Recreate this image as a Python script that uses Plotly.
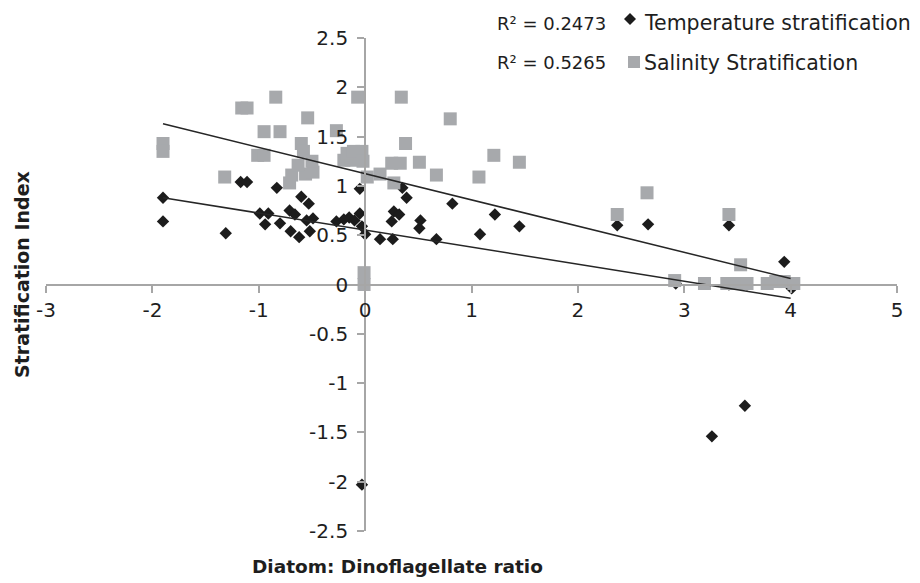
import plotly.graph_objects as go

# ---------------- data ----------------
temp_x = [-1.90, -1.90, -1.31, -1.17, -1.11, -0.99, -0.94, -0.91, -0.83, -0.80,
          -0.71, -0.70, -0.66, -0.62, -0.60, -0.55, -0.53, -0.52, -0.49, -0.27,
          -0.20, -0.15, -0.10, -0.05, -0.03, -0.05, 0.00, 0.14, 0.25, 0.26,
          0.27, 0.32, 0.35, 0.39, 0.51, 0.52, 0.67, 0.82, 1.08, 1.22,
          1.45, 2.37, 2.66, 2.92, 3.26, 3.42, 3.42, 3.57, 3.59, 3.94,
          4.01, -0.03]
temp_y = [0.88, 0.64, 0.52, 1.04, 1.04, 0.72, 0.61, 0.72, 0.98, 0.62,
          0.75, 0.54, 0.71, 0.48, 0.89, 0.65, 0.82, 0.54, 0.67, 0.64,
          0.66, 0.68, 0.65, 0.72, 0.59, 0.97, 0.51, 0.46, 0.64, 0.46,
          0.74, 0.71, 0.98, 0.88, 0.57, 0.65, 0.46, 0.82, 0.51, 0.71,
          0.59, 0.60, 0.61, 0.01, -1.54, 0.60, 0.00, -1.23, 0.00, 0.23,
          -0.04, -2.03]

sal_x = [-1.90, -1.90, -1.16, -1.11, -1.32, -0.95, -1.01, -0.95, -0.84, -0.80,
         -0.54, -0.27, -0.60, -0.58, -0.69, -0.56, -0.49, -0.63, -0.50, -0.71,
         -0.20, -0.13, -0.07, -0.17, -0.11, -0.03, -0.02, 0.02, 0.14, 0.25,
         0.33, 0.27, 0.34, 0.38, 0.51, 0.67, 0.80, 1.07, 1.21, 1.45,
         2.37, 2.65, 3.42, 3.53, 2.91, 3.19, 3.40, 3.50, 3.59, 3.78,
         3.86, 3.94, 4.03, -0.01, -0.01]
sal_y = [1.43, 1.35, 1.79, 1.79, 1.09, 1.55, 1.31, 1.31, 1.90, 1.55,
         1.69, 1.56, 1.43, 1.35, 1.11, 1.12, 1.14, 1.21, 1.25, 1.03,
         1.26, 1.26, 1.90, 1.33, 1.35, 1.35, 1.25, 1.09, 1.12, 1.23,
         1.23, 1.03, 1.90, 1.43, 1.24, 1.11, 1.68, 1.09, 1.31, 1.24,
         0.71, 0.93, 0.71, 0.20, 0.04, 0.01, 0.01, 0.01, 0.01, 0.01,
         0.03, 0.03, 0.01, 0.12, 0.00]

# linear trend lines (end points)
trend_x = [-1.90, 4.00]
temp_trend_y = [0.88, -0.14]
sal_trend_y = [1.63, 0.06]

series_names = ["Temperature stratification", "Salinity Stratification"]
r2_labels = ["R\u00b2 = 0.2473", "R\u00b2 = 0.5265"]

x_tick_vals = [-3, -2, -1, 0, 1, 2, 3, 4, 5]
x_tick_text = ["-3", "-2", "-1", "0", "1", "2", "3", "4", "5"]
y_tick_vals = [2.5, 2, 1.5, 1, 0.5, 0, -0.5, -1, -1.5, -2, -2.5]
y_tick_text = ["2.5", "2", "1.5", "1", "0.5", "0", "-0.5", "-1", "-1.5", "-2", "-2.5"]

x_title = "Diatom: Dinoflagellate ratio"
y_title = "Stratification Index"

# ---------------- styling ----------------
W, H = 920, 583
ML, MR, MT, MB = 46, 23, 38, 52
FONT = "DejaVu Sans"
AXIS_GRAY = "#a6a6a6"
DIAMOND_COLOR = "#1c1c1c"
SQUARE_COLOR = "#a7a9ac"
TEXT_COLOR = "#1e1e1e"

pw, ph = W - ML - MR, H - MT - MB


def px2paper_x(px):
    return (px - ML) / pw


def px2paper_y(py):
    return (H - MB - py) / ph


fig = go.Figure()

fig.add_trace(go.Scatter(
    x=temp_x, y=temp_y, mode="markers", name=series_names[0],
    marker=dict(symbol="diamond", size=9.5, color=DIAMOND_COLOR,
                line=dict(width=0)),
))
fig.add_trace(go.Scatter(
    x=sal_x, y=sal_y, mode="markers", name=series_names[1],
    marker=dict(symbol="square", size=13, color=SQUARE_COLOR,
                line=dict(width=0)),
))
fig.add_trace(go.Scatter(
    x=trend_x, y=sal_trend_y, mode="lines", showlegend=False,
    line=dict(color="#262626", width=1.5), hoverinfo="skip",
))
fig.add_trace(go.Scatter(
    x=trend_x, y=temp_trend_y, mode="lines", showlegend=False,
    line=dict(color="#262626", width=1.5), hoverinfo="skip",
))

axis_common = dict(
    showgrid=False, zeroline=False, showline=True, linecolor=AXIS_GRAY,
    linewidth=2, ticks="outside", ticklen=7, tickwidth=2, tickcolor=AXIS_GRAY,
    tickfont=dict(family=FONT, size=20, color=TEXT_COLOR), automargin=False,
    layer="above traces",
)

fig.update_layout(
    width=W, height=H,
    margin=dict(l=ML, r=MR, t=MT, b=MB, pad=0),
    plot_bgcolor="white", paper_bgcolor="white",
    showlegend=False,
    xaxis=dict(range=[-3, 5], anchor="free", position=0.5,
               tickmode="array", tickvals=x_tick_vals, ticktext=x_tick_text,
               **axis_common),
    yaxis=dict(range=[-2.5, 2.5], anchor="free", position=3 / 8,
               tickmode="array", tickvals=y_tick_vals, ticktext=y_tick_text,
               ticklabelstandoff=5, **axis_common),
)

annotations = [
    dict(text="<b>" + x_title + "</b>", xref="paper", yref="paper",
         x=px2paper_x(397), y=px2paper_y(566), xanchor="center", yanchor="middle",
         showarrow=False, font=dict(family=FONT, size=18.5, color=TEXT_COLOR)),
    dict(text="<b>" + y_title + "</b>", xref="paper", yref="paper",
         x=px2paper_x(22), y=px2paper_y(275), xanchor="center", yanchor="middle",
         textangle=-90, showarrow=False,
         font=dict(family=FONT, size=19, color=TEXT_COLOR)),
]
legend_rows_y = [23, 63]
for i in range(2):
    annotations.append(dict(
        text=r2_labels[i], xref="paper", yref="paper",
        x=px2paper_x(608), y=px2paper_y(legend_rows_y[i]),
        xanchor="right", yanchor="middle", showarrow=False,
        font=dict(family=FONT, size=18, color=TEXT_COLOR)))
    annotations.append(dict(
        text=series_names[i], xref="paper", yref="paper",
        x=px2paper_x(642), y=px2paper_y(legend_rows_y[i]),
        xanchor="left", yanchor="middle", showarrow=False,
        font=dict(family=FONT, size=20.5, color=TEXT_COLOR)))
fig.update_layout(annotations=annotations)

# legend symbols
shapes = [
    dict(type="path", xref="paper", yref="paper", xsizemode="pixel", ysizemode="pixel",
         xanchor=px2paper_x(630), yanchor=px2paper_y(19),
         path="M -6 0 L 0 6 L 6 0 L 0 -6 Z", fillcolor=DIAMOND_COLOR, line=dict(width=0)),
    dict(type="rect", xref="paper", yref="paper", xsizemode="pixel", ysizemode="pixel",
         xanchor=px2paper_x(634), yanchor=px2paper_y(62),
         x0=-6, x1=6, y0=-6, y1=6, fillcolor=SQUARE_COLOR, line=dict(width=0)),
]
fig.update_layout(shapes=shapes)

fig.write_html("out.html")
